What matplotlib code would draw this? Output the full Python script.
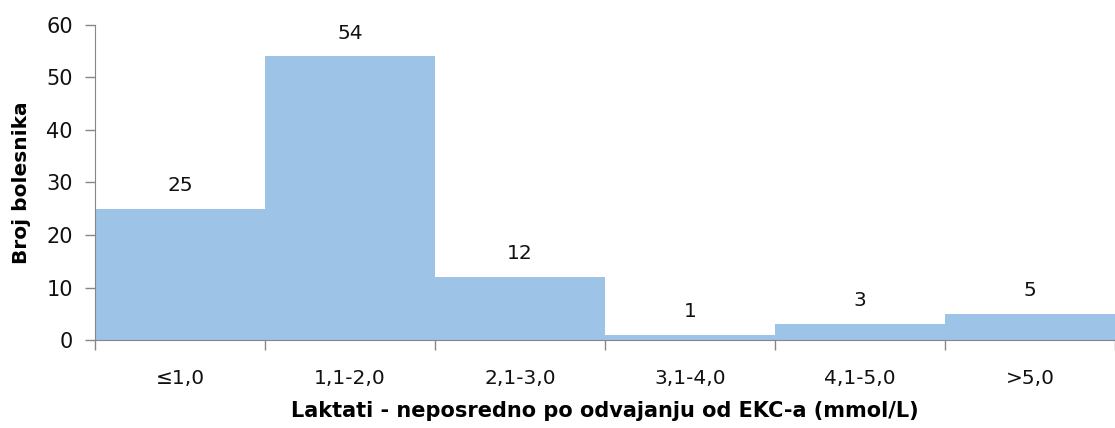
import matplotlib
matplotlib.use("Agg")
import matplotlib.pyplot as plt
import numpy as np

categories = ['≤1,0', '1,1-2,0', '2,1-3,0', '3,1-4,0', '4,1-5,0', '>5,0']
counts = [25, 54, 12, 1, 3, 5]
y_ticks = [0, 10, 20, 30, 40, 50, 60]

plt.rcParams['font.family'] = ['DejaVu Sans']

fig = plt.figure(figsize=(11.15, 4.28), dpi=100)
ax = fig.add_axes([95 / 1115, 1 - 340 / 428, 1 - 95 / 1115, 315 / 428])

x = np.arange(len(categories))
ax.bar(x, counts, width=1.0, color='#9DC3E6', edgecolor='none')

for xi, v in zip(x, counts):
    ax.annotate(str(v), (xi, v), xytext=(0, 10), textcoords='offset points',
                ha='center', va='bottom', fontsize=14.5, color='#111111')

ax.set_xlim(-0.5, len(categories) - 0.5)
ax.set_ylim(0, 60)
ax.set_yticks(y_ticks)
ax.set_xticks(x)
ax.set_xticklabels(categories)
ax.set_xticks(np.arange(len(categories) + 1) - 0.5, minor=True)

ax.tick_params(axis='x', which='major', length=0, pad=21, labelsize=14.5,
               labelcolor='#111111')
ax.tick_params(axis='x', which='minor', length=7, color='#868686', width=1)
ax.tick_params(axis='y', length=7, color='#868686', width=1, labelsize=15,
               pad=9, labelcolor='#111111')

for side in ['top', 'right']:
    ax.spines[side].set_visible(False)
for side in ['left', 'bottom']:
    ax.spines[side].set_color('#868686')

ax.set_ylabel('Broj bolesnika', fontsize=14.5, fontweight='bold', labelpad=11)
ax.set_xlabel('Laktati - neposredno po odvajanju od EKC-a (mmol/L)',
              fontsize=15, fontweight='bold', labelpad=9)

fig.savefig('out.png', dpi=100)
